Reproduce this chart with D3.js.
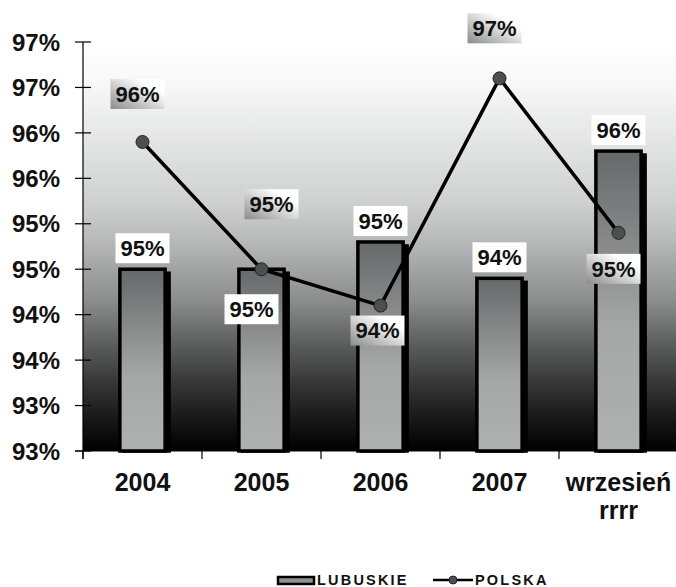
<!DOCTYPE html>
<html>
<head>
<meta charset="utf-8">
<script src="https://cdn.jsdelivr.net/npm/d3@7"></script>
<style>
  body { margin: 0; background: #fff; }
  svg { display: block; font-family: "Liberation Sans", Arial, sans-serif; }
</style>
</head>
<body>
<svg id="chart" width="676" height="587"></svg>
<script>
// data (percent)
var categories = ["2004", "2005", "2006", "2007", "wrzesień\nrrrr"];
var lubuskie = [94.5, 94.5, 94.8, 94.4, 95.8];
var polska = [95.9, 94.5, 94.1, 96.6, 94.9];
var yTicks = [92.5, 93, 93.5, 94, 94.5, 95, 95.5, 96, 96.5, 97];

// label placement (pixel offsets from the mark)
var barLabelDy = [-21, 40, -21, -21, -21];
var barLabelDx = [0, -10, 0, 0, 0];
var lineLabelDy = [-48, -65, 25, -50, 36];
var lineLabelDx = [-5, 10, -3, -5, -5];

var svg = d3.select("#chart");
var plotLeft = 83, plotRight = 678, plotTop = 42, plotBottom = 451;

var x = d3.scaleBand().domain(categories).range([plotLeft, plotRight]);
var y = d3.scaleLinear().domain([92.5, 97]).range([plotBottom, plotTop]);

var defs = svg.append("defs");

var bg = defs.append("linearGradient").attr("id", "bg")
    .attr("x1", 0).attr("y1", 0).attr("x2", 0).attr("y2", 1);
[[0, "#ffffff"], [0.1, "#f8f8f8"], [0.39, "#cfd0d0"], [0.48, "#b9baba"], [0.63, "#8c8d8d"],
 [0.73, "#606161"], [0.83, "#383838"], [0.92, "#181818"], [1, "#000000"]].forEach(function (s) {
  bg.append("stop").attr("offset", s[0]).attr("stop-color", s[1]);
});

var barGrad = defs.append("linearGradient").attr("id", "barGrad")
    .attr("x1", 0).attr("y1", 0).attr("x2", 0).attr("y2", 1);
[[0, "#656969"], [0.33, "#8a8c8c"], [0.6, "#a6a8a8"], [1, "#afb1b1"]].forEach(function (s) {
  barGrad.append("stop").attr("offset", s[0]).attr("stop-color", s[1]);
});

var boxGrad = defs.append("linearGradient").attr("id", "boxGrad")
    .attr("x1", 0).attr("y1", 1).attr("x2", 1).attr("y2", 0);
[[0, "#8a8c8c"], [0.75, "#ffffff"], [1, "#ffffff"]].forEach(function (s) {
  boxGrad.append("stop").attr("offset", s[0]).attr("stop-color", s[1]);
});

// plot background
svg.append("rect")
    .attr("x", plotLeft).attr("y", plotTop)
    .attr("width", plotRight - plotLeft).attr("height", plotBottom - plotTop)
    .attr("fill", "url(#bg)");

// bars
var bw = x.bandwidth() * 0.38;
function cx(i) { return x(categories[i]) + x.bandwidth() / 2; }

var bars = svg.append("g").selectAll("g")
    .data(lubuskie)
    .enter().append("g");

// shadow
bars.append("rect")
    .attr("x", function (d, i) { return cx(i) - bw / 2 + 4; })
    .attr("y", function (d) { return y(d) + 4; })
    .attr("width", bw)
    .attr("height", function (d) { return plotBottom - y(d) - 4; })
    .attr("fill", "#000")
    .attr("stroke", "#000").attr("stroke-width", 3.5);

bars.append("rect")
    .attr("x", function (d, i) { return cx(i) - bw / 2; })
    .attr("y", function (d) { return y(d); })
    .attr("width", bw)
    .attr("height", function (d) { return plotBottom - y(d); })
    .attr("fill", "url(#barGrad)")
    .attr("stroke", "#000").attr("stroke-width", 3.5);

// axes
var yAxis = svg.append("g");
yAxis.append("line")
    .attr("x1", plotLeft).attr("x2", plotLeft).attr("y1", plotTop).attr("y2", plotBottom + 8)
    .attr("stroke", "#000").attr("stroke-width", 1.2);
yAxis.selectAll("line.tick")
    .data(yTicks)
    .enter().append("line")
    .attr("class", "tick")
    .attr("x1", 75).attr("x2", 91)
    .attr("y1", function (d) { return y(d); })
    .attr("y2", function (d) { return y(d); })
    .attr("stroke", "#000").attr("stroke-width", 1.2);
yAxis.selectAll("text")
    .data(yTicks)
    .enter().append("text")
    .attr("x", 60)
    .attr("y", function (d) { return y(d); })
    .attr("dy", "0.36em")
    .attr("text-anchor", "end")
    .attr("font-size", 24).attr("font-weight", "bold").attr("fill", "#111")
    .text(function (d) { return d3.format(".0f")(d) + "%"; });

var xAxis = svg.append("g");
xAxis.append("line")
    .attr("x1", 75).attr("x2", plotRight).attr("y1", plotBottom).attr("y2", plotBottom)
    .attr("stroke", "#000").attr("stroke-width", 1.2);
xAxis.selectAll("line.tick")
    .data(categories)
    .enter().append("line")
    .attr("class", "tick")
    .attr("x1", function (d) { return x(d); })
    .attr("x2", function (d) { return x(d); })
    .attr("y1", plotBottom).attr("y2", plotBottom + 8)
    .attr("stroke", "#000").attr("stroke-width", 1.2);
var xl = xAxis.selectAll("text")
    .data(categories)
    .enter().append("text")
    .attr("text-anchor", "middle")
    .attr("font-size", 25).attr("font-weight", "bold").attr("fill", "#111");
xl.each(function (d) {
  var t = d3.select(this);
  d.split("\n").forEach(function (part, k) {
    t.append("tspan")
        .attr("x", x(d) + x.bandwidth() / 2)
        .attr("y", 491 + k * 28)
        .text(part);
  });
});

// line series
var line = d3.line()
    .x(function (d, i) { return cx(i); })
    .y(function (d) { return y(d); });

svg.append("path")
    .datum(polska)
    .attr("d", line)
    .attr("fill", "none")
    .attr("stroke", "#000").attr("stroke-width", 3.5);

svg.append("g").selectAll("circle")
    .data(polska)
    .enter().append("circle")
    .attr("cx", function (d, i) { return cx(i); })
    .attr("cy", function (d) { return y(d); })
    .attr("r", 6.5)
    .attr("fill", "#4b4f52")
    .attr("stroke", "#222").attr("stroke-width", 1);

// data labels
function addLabels(values, dxs, dys, fill) {
  var g = svg.append("g").selectAll("g")
      .data(values)
      .enter().append("g")
      .attr("transform", function (d, i) {
        return "translate(" + (cx(i) + dxs[i]) + "," + (y(d) + dys[i]) + ")";
      });
  g.append("rect")
      .attr("x", -27).attr("y", -15)
      .attr("width", 54).attr("height", 30)
      .attr("fill", fill);
  g.append("text")
      .attr("text-anchor", "middle")
      .attr("dy", "0.36em")
      .attr("font-size", 22).attr("font-weight", "bold").attr("fill", "#111")
      .text(function (d) { return Math.round(d) + "%"; });
}
addLabels(lubuskie, barLabelDx, barLabelDy, "#ffffff");
addLabels(polska, lineLabelDx, lineLabelDy, "url(#boxGrad)");

// legend
var legend = svg.append("g");
legend.append("rect")
    .attr("x", 278).attr("y", 577).attr("width", 36).attr("height", 7)
    .attr("fill", "#8f9191").attr("stroke", "#000").attr("stroke-width", 2.5);
legend.append("text")
    .attr("x", 317).attr("y", 585)
    .attr("font-size", 14.5).attr("font-weight", "bold").attr("letter-spacing", 2.2)
    .attr("fill", "#111")
    .text("LUBUSKIE");
legend.append("line")
    .attr("x1", 433).attr("x2", 473).attr("y1", 580).attr("y2", 580)
    .attr("stroke", "#000").attr("stroke-width", 2.5);
legend.append("circle")
    .attr("cx", 453).attr("cy", 580).attr("r", 4)
    .attr("fill", "#4b4f52").attr("stroke", "#222").attr("stroke-width", 1);
legend.append("text")
    .attr("x", 475).attr("y", 585)
    .attr("font-size", 14.5).attr("font-weight", "bold").attr("letter-spacing", 2.2)
    .attr("fill", "#111")
    .text("POLSKA");
</script>
</body>
</html>
